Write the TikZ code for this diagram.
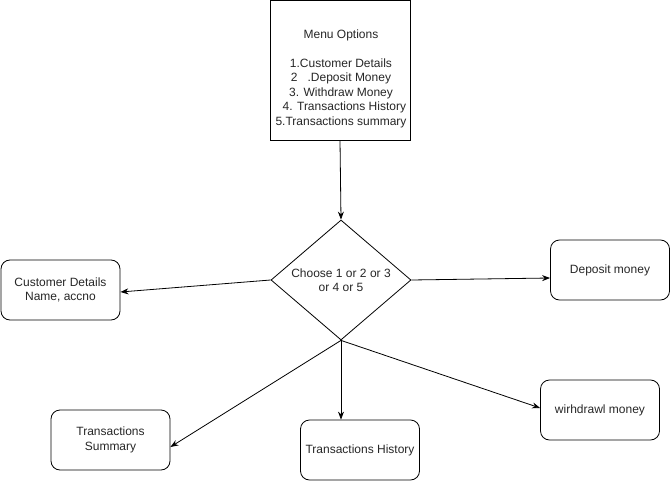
\documentclass[tikz,border=0pt]{standalone}
\usepackage{fontspec}
\setmainfont{Liberation Sans}
\usetikzlibrary{arrows.meta,shapes.geometric}
\begin{document}
\begin{tikzpicture}[x=1pt,y=-1pt,
  every node/.style={font=\fontsize{12}{14.5}\selectfont, text=black!85, align=center},
  box/.style={draw, line width=0.8pt, minimum width=119pt, minimum height=60pt, inner sep=2pt},
  rbox/.style={box, rounded corners=9pt},
  dia/.style={draw, line width=0.8pt, diamond, minimum width=140pt, minimum height=120pt, inner sep=0pt, aspect=1.1667},
  conn/.style={draw, line width=0.8pt, -{Stealth[length=8pt,width=6pt]}}]
\useasboundingbox (0,0) rectangle (671,481);
\node[box, minimum width=140pt, minimum height=140pt] (menu) at (340,70) {};
\node at (341,79) {Menu Options\\[14pt]1.Customer Details\\2\ \ \ .Deposit Money\\3. Withdraw Money\\\ \ 4. Transactions History\\5.Transactions summary};
\node[dia] (d) at (341,280) {};
\node at (341,280) {Choose 1 or 2 or 3\\or 4 or 5};
\node[rbox] (cust) at (60.5,290) {Customer Details\\Name, accno};
\node[rbox] (dep) at (610,270) {Deposit money};
\node[rbox] (sum) at (110.5,440) {Transactions\\Summary};
\node[rbox] (hist) at (360,450) {Transactions History};
\node[rbox] (wd) at (600,410) {wirhdrawl money};
\draw[conn] (menu.south) -- (d.north);
\draw[conn] (d.west) -- ([yshift=-2pt]cust.east);
\draw[conn] (d.east) -- ([yshift=-8pt]dep.west);
\draw[conn] (d.south) -- ([yshift=-7pt]sum.east);
\draw[conn] (d.south) -- (d.south |- hist.north);
\draw[conn] (d.south) -- ([yshift=2pt]wd.west);
\end{tikzpicture}
\end{document}
